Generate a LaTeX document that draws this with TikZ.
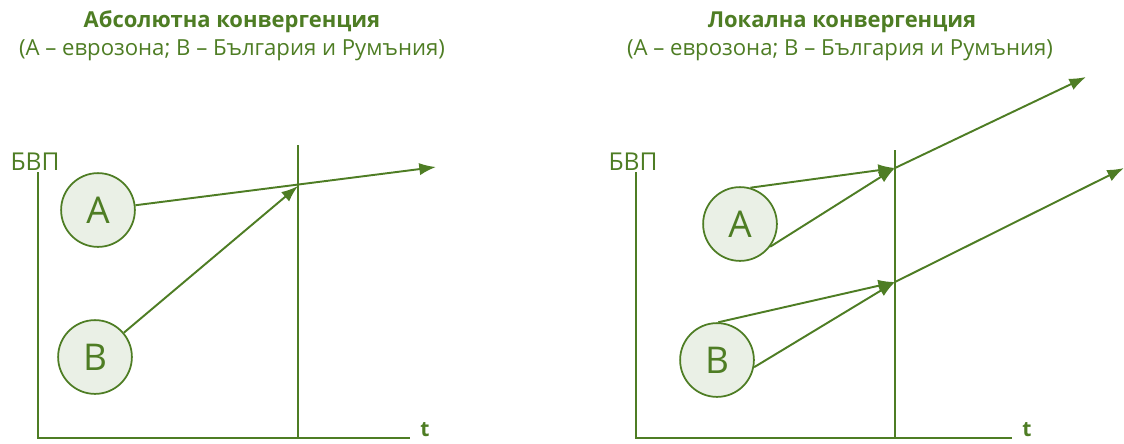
\documentclass[tikz,border=0pt]{standalone}
\usepackage{fontspec}
\setmainfont{Open Sans}
\usetikzlibrary{arrows.meta,positioning}
\definecolor{leaf}{HTML}{4E7D24}
\definecolor{leaflight}{HTML}{EAF0E6}

\tikzset{
  country/.style={circle,draw=leaf,fill=leaflight,line width=1pt,minimum size=42pt,inner sep=0pt,
    text=leaf,font=\fontsize{21}{21}\selectfont},
  trend/.style={-{Latex[length=9.5pt,width=7pt]},leaf,line width=1.1pt},
  axis/.style={leaf,line width=1.1pt},
  heading/.style={text=leaf,font=\bfseries\fontsize{12.5}{14}\selectfont},
  subheading/.style={text=leaf,font=\fontsize{12.6}{14}\selectfont},
  axislabel/.style={text=leaf,font=\fontsize{14}{16}\selectfont},
  timelabel/.style={text=leaf,font=\bfseries\fontsize{12}{14}\selectfont},
}

\begin{document}
\begin{tikzpicture}[x=0.02cm,y=-0.02cm]
    \useasboundingbox (0,0) rectangle (1124,443);

    % absolute convergence
    \node[heading] (titleL) at (232,22) {Абсолютна конвергенция};
    \node[subheading] (subL) at (232,50) {(A – еврозона; B – България и Румъния)};
    \node[axislabel] (gdpL) at (35,162) {БВП};
    \node[timelabel] (tL) at (425,430) {t};

    \coordinate (topL) at (38,172);
    \coordinate (originL) at (38,438);
    \coordinate (endL) at (410,438);
    \coordinate (markL) at (298,145);
    \coordinate (footL) at (298,438);
    \draw[axis] (topL) -- (originL) -- (endL);
    \draw[axis] (markL) -- (footL);

    \node[country] (A1) at (98,210) {A};
    \node[country] (B1) at (95,357) {B};
    \coordinate (meetL) at (298,186);
    \coordinate (tipL) at (436,167);

    \draw[trend] (A1) -- (tipL);
    \draw[trend] (B1) -- (meetL);

    % local convergence
    \node[heading] (titleR) at (842,22) {Локална конвергенция};
    \node[subheading] (subR) at (840,50) {(A – еврозона; B – България и Румъния)};
    \node[axislabel] (gdpR) at (633,162) {БВП};
    \node[timelabel] (tR) at (1027,430) {t};

    \coordinate (topR) at (636,172);
    \coordinate (originR) at (636,438);
    \coordinate (endR) at (1012,438);
    \coordinate (markR) at (895,150);
    \coordinate (footR) at (895,438);
    \draw[axis] (topR) -- (originR) -- (endR);
    \draw[axis] (markR) -- (footR);

    \node[country] (A2) at (740,224) {A};
    \node[country] (B2) at (717,360) {B};
    \coordinate (meetA) at (895,168);
    \coordinate (meetB) at (895,282);
    \coordinate (tipA) at (1086,77);
    \coordinate (tipB) at (1124,168);

    \draw[trend] (A2.74) -- (meetA);
    \draw[trend] (A2.-37) -- (meetA);
    \draw[trend] (meetA) -- (tipA);

    \draw[trend] (B2.88) -- (meetB);
    \draw[trend] (B2.-11) -- (meetB);
    \draw[trend] (meetB) -- (tipB);
\end{tikzpicture}
\end{document}
